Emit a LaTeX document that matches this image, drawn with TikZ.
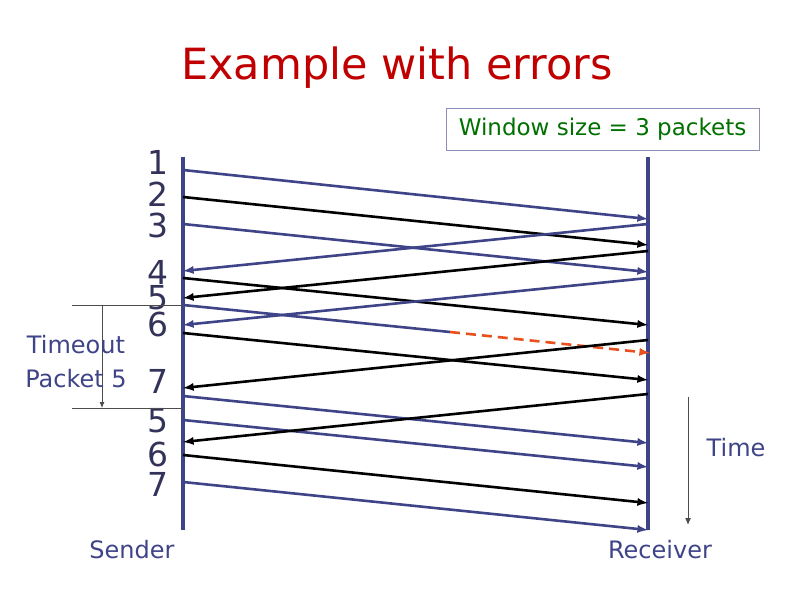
\documentclass[tikz,border=0pt]{standalone}
\usepackage{fontspec}
\usetikzlibrary{arrows.meta}
\setmainfont{DejaVu Sans}
\begin{document}
\begin{tikzpicture}[x=1pt,y=-1pt,>=latex,
  bl/.style={draw=lnblue,line width=2.6pt,->},
  bk/.style={draw=black,line width=2.6pt,->},
  num/.style={font=\fontsize{33}{33}\selectfont,text=numgray,inner sep=0pt},
  lab/.style={font=\fontsize{24}{24}\selectfont,text=lnblue,inner sep=0pt}]
\definecolor{lnblue}{HTML}{3F4488}
\definecolor{numgray}{HTML}{33335A}
\definecolor{ttl}{HTML}{C00000}
\definecolor{grn}{HTML}{007000}
\definecolor{dred}{HTML}{E8501E}
\useasboundingbox (0,0) rectangle (792,612);
\node[font=\fontsize{43}{43}\selectfont,text=ttl,inner sep=0pt] (title) at (397,68) {Example with errors};
\node[draw=lnblue!60,line width=0.8pt,font=\fontsize{23}{23}\selectfont,text=grn,minimum width=313pt,minimum height=42pt,inner sep=0pt] (win) at (602.5,129) {Window size = 3 packets};
\coordinate (st) at (183,157); \coordinate (sb) at (183,530);
\coordinate (rt) at (648,157); \coordinate (rb) at (648,530);
\draw[draw=lnblue,line width=3.5pt] (st) -- (sb);
\draw[draw=lnblue,line width=3.5pt] (rt) -- (rb);
% numbers
\foreach \t/\y [count=\i] in {1/162,2/194,3/225,4/272,5/298,6/324,7/381,5/421,6/454,7/484}
  \node[num] (n\i) at (158,\y) {\t};
% forward packets
\foreach \a/\b/\s [count=\i] in {170/219/bl,197/245/bk,224/272/bl,278/325/bk,333/380/bk,396/443/bl,420/467/bl,455/503/bk,482/530/bl}{
  \coordinate (fa\i) at (183,\a); \coordinate (fb\i) at (648,\b);
  \draw[\s] (fa\i) -- (fb\i);}
% lost packet 5
\coordinate (l1) at (183,305); \coordinate (l2) at (450,332); \coordinate (l3) at (650,353);
\draw[draw=lnblue,line width=2.6pt] (l1) -- (l2);
\draw[draw=dred,line width=2.6pt,dashed,dash pattern=on 10pt off 6pt,->] (l2) -- (l3);
% acks
\foreach \a/\b/\s [count=\i] in {224/271/bl,251/298/bk,278/325/bl,340/388/bk,394/442/bk}{
  \coordinate (aa\i) at (648,\a); \coordinate (ab\i) at (183,\b);
  \draw[\s] (aa\i) -- (ab\i);}
% timeout
\coordinate (t1) at (72,305); \coordinate (t2) at (183,305);
\coordinate (t3) at (72,408); \coordinate (t4) at (183,408);
\coordinate (t5) at (102,305); \coordinate (t6) at (102,408);
\draw[gray!60!black,line width=0.6pt] (t1) -- (t2) (t3) -- (t4);
\draw[gray!60!black,line width=0.8pt,-{Latex[length=6pt,width=5pt]}] (t5) -- (t6);
\node[lab] (to1) at (76,345) {Timeout};
\node[lab] (to2) at (76,379) {Packet 5};
% time
\coordinate (ti1) at (688,397); \coordinate (ti2) at (688,525);
\draw[gray!60!black,line width=1pt,-{Latex[length=7pt,width=6pt]}] (ti1) -- (ti2);
\node[lab] (time) at (736,448) {Time};
\node[lab] (snd) at (132,550) {Sender};
\node[lab] (rcv) at (660,550) {Receiver};
\end{tikzpicture}
\end{document}
